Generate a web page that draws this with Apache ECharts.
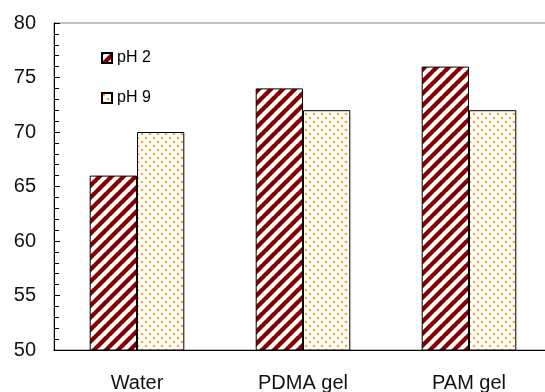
<!DOCTYPE html>
<html><head><meta charset="utf-8">
<script src="https://cdn.jsdelivr.net/npm/echarts@6/dist/echarts.min.js"></script>
<style>html,body{margin:0;padding:0;background:#fff}#c{width:545px;height:392px}</style>
</head><body><div id="c"></div>
<script>
const categories = ['Water', 'PDMA gel', 'PAM gel'];
const seriesNames = ['pH 2', 'pH 9'];
const ph2 = [66, 74, 76];
const ph9 = [70, 72, 72];

function stripeCanvas() {
  const s = 12, c = document.createElement('canvas');
  c.width = s; c.height = s;
  const g = c.getContext('2d');
  g.fillStyle = '#fff'; g.fillRect(0, 0, s, s);
  g.strokeStyle = '#850000'; g.lineWidth = 4.4;
  for (let k = -1; k <= 1; k++) {
    g.beginPath(); g.moveTo(k * s - 1, s + 1); g.lineTo(k * s + s + 1, -1); g.stroke();
  }
  return c;
}
function dotCanvas() {
  const s = 8, c = document.createElement('canvas');
  c.width = s; c.height = s;
  const g = c.getContext('2d');
  g.fillStyle = '#fff'; g.fillRect(0, 0, s, s);
  g.fillStyle = '#FFA528';
  [[2, 2], [6, 6]].forEach(p => { g.beginPath(); g.arc(p[0], p[1], 1.3, 0, Math.PI * 2); g.fill(); });
  return c;
}

const chart = echarts.init(document.getElementById('c'), null, {renderer: 'canvas'});
const font = 'Liberation Sans, Arial, sans-serif';
chart.setOption({
  animation: false,
  grid: {left: 54, top: 23, width: 498, bottom: 42, show: true, borderColor: '#808080', borderWidth: 1,
         outerBoundsMode: 'none', containLabel: false},
  legend: {
    orient: 'vertical', left: 96, top: 45, itemWidth: 10, itemHeight: 10, itemGap: 24, icon: 'rect',
    textStyle: {fontFamily: font, fontSize: 16, color: '#000', padding: [0, 0, 0, 0]},
    data: seriesNames
  },
  xAxis: {
    type: 'category', data: categories,
    axisLine: {lineStyle: {color: '#000', width: 1}},
    axisTick: {inside: true, length: 6, lineStyle: {color: '#000'}},
    axisLabel: {fontFamily: font, fontSize: 20, color: '#111', margin: 23}
  },
  yAxis: {
    type: 'value', min: 50, max: 80, interval: 5,
    axisLine: {show: true, lineStyle: {color: '#000', width: 1}},
    axisTick: {show: true, inside: true, length: 6, lineStyle: {color: '#000'}},
    minorTick: {show: true, splitNumber: 5, length: 5, lineStyle: {color: '#000'}},
    splitLine: {show: false},
    axisLabel: {fontFamily: font, fontSize: 20, color: '#111', margin: 18}
  },
  series: [
    {name: seriesNames[0], type: 'bar', data: ph2, barGap: '0%', barCategoryGap: '43%',
     itemStyle: {color: {image: stripeCanvas(), repeat: 'repeat'}, borderColor: '#000', borderWidth: 1}},
    {name: seriesNames[1], type: 'bar', data: ph9, barGap: '0%', barCategoryGap: '43%',
     itemStyle: {color: {image: dotCanvas(), repeat: 'repeat'}, borderColor: '#000', borderWidth: 1}}
  ]
});
</script></body></html>
